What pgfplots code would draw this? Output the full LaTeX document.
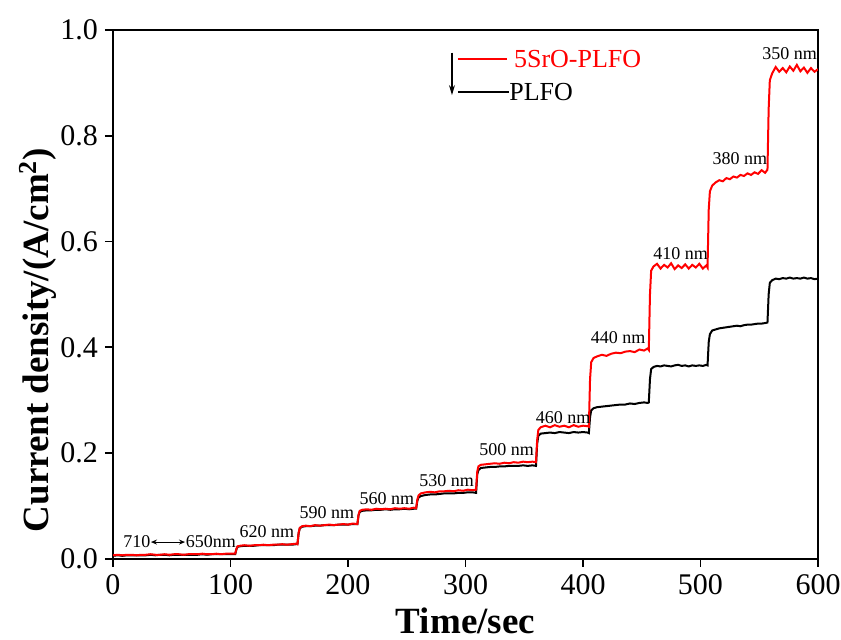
\documentclass[border=0pt]{standalone}
\usepackage{pgfplots}
\pgfplotsset{compat=1.18}
\usepackage{pgfplotstable}
\usepackage{fontspec}
\setmainfont{Liberation Serif}
\usetikzlibrary{arrows.meta}

\pgfplotstableread{
t r b
0 0.007 0.006
4 0.008 0.007
8 0.007 0.006
12 0.008 0.007
16 0.008 0.007
20 0.007 0.007
24 0.008 0.007
28 0.008 0.007
32 0.009 0.008
36 0.008 0.007
40 0.008 0.008
44 0.009 0.008
48 0.008 0.007
52 0.009 0.008
56 0.009 0.008
60 0.008 0.008
64 0.009 0.008
68 0.009 0.008
72 0.009 0.008
76 0.010 0.009
80 0.009 0.008
84 0.009 0.009
88 0.010 0.009
92 0.009 0.009
96 0.010 0.009
100 0.010 0.009
104 0.010 0.009
105 0.019 0.018
106 0.024 0.023
108 0.025 0.024
112 0.026 0.025
116 0.025 0.025
120 0.026 0.025
124 0.026 0.026
128 0.027 0.026
132 0.026 0.026
136 0.027 0.026
140 0.027 0.027
144 0.028 0.027
148 0.027 0.027
152 0.028 0.027
156 0.029 0.028
157 0.028 0.028
158 0.050 0.049
159 0.059 0.058
161 0.062 0.061
164 0.063 0.062
168 0.062 0.062
172 0.064 0.063
176 0.063 0.063
180 0.064 0.064
184 0.065 0.064
188 0.064 0.064
192 0.065 0.065
196 0.066 0.065
200 0.065 0.065
204 0.067 0.066
208 0.066 0.066
209 0.084 0.083
210 0.091 0.089
212 0.093 0.091
216 0.094 0.092
220 0.093 0.092
224 0.095 0.093
228 0.094 0.093
232 0.095 0.094
236 0.094 0.093
240 0.096 0.094
244 0.095 0.094
248 0.096 0.095
252 0.095 0.094
256 0.097 0.095
258 0.096 0.095
259 0.112 0.110
260 0.120 0.116
262 0.124 0.119
266 0.126 0.121
270 0.127 0.122
274 0.126 0.122
278 0.128 0.123
282 0.128 0.124
286 0.129 0.124
290 0.128 0.124
294 0.130 0.125
298 0.129 0.125
302 0.131 0.126
306 0.130 0.126
309 0.131 0.125
310 0.165 0.160
311 0.175 0.168
313 0.178 0.172
317 0.179 0.173
321 0.180 0.174
325 0.181 0.174
329 0.180 0.175
333 0.182 0.175
337 0.181 0.176
341 0.183 0.176
345 0.182 0.176
349 0.184 0.177
353 0.183 0.176
357 0.184 0.177
360 0.183 0.176
361 0.225 0.218
362 0.244 0.233
364 0.249 0.237
368 0.252 0.238
372 0.249 0.239
376 0.253 0.238
380 0.250 0.240
384 0.252 0.239
388 0.249 0.238
392 0.253 0.240
396 0.250 0.239
400 0.252 0.240
404 0.251 0.239
405 0.250 0.238
406 0.340 0.268
407 0.372 0.281
409 0.380 0.285
412 0.383 0.287
416 0.386 0.288
420 0.384 0.289
424 0.388 0.290
428 0.390 0.291
432 0.389 0.292
436 0.392 0.292
440 0.393 0.294
444 0.391 0.293
448 0.396 0.295
452 0.394 0.296
455 0.398 0.295
456 0.395 0.296
457 0.500 0.340
458 0.545 0.359
460 0.553 0.363
463 0.558 0.365
466 0.549 0.364
469 0.556 0.366
472 0.551 0.365
475 0.559 0.364
478 0.548 0.366
481 0.555 0.367
484 0.550 0.365
487 0.557 0.366
490 0.549 0.364
493 0.556 0.366
496 0.551 0.365
499 0.558 0.366
502 0.549 0.365
505 0.555 0.367
506 0.551 0.366
507 0.660 0.410
508 0.695 0.425
510 0.706 0.432
513 0.712 0.434
516 0.716 0.436
519 0.714 0.437
522 0.720 0.438
525 0.718 0.439
528 0.723 0.440
531 0.721 0.441
534 0.726 0.440
537 0.724 0.442
540 0.729 0.443
543 0.726 0.443
546 0.731 0.444
549 0.728 0.445
552 0.735 0.445
555 0.730 0.446
557 0.736 0.447
558 0.850 0.500
559 0.905 0.522
561 0.918 0.527
564 0.930 0.530
567 0.921 0.529
570 0.928 0.531
573 0.920 0.530
576 0.931 0.532
579 0.923 0.530
582 0.934 0.531
585 0.922 0.530
588 0.929 0.532
591 0.919 0.530
594 0.928 0.531
597 0.921 0.529
600 0.926 0.530
}\data

\begin{document}
\begin{tikzpicture}
\begin{axis}[name=ax, scale only axis, width=352.5pt, height=264.5pt,
  xmin=0, xmax=600, ymin=0, ymax=1.0,
  xtick={0,100,200,300,400,500,600},
  ytick={0,0.2,0.4,0.6,0.8,1.0},
  tick align=outside, tick pos=left, major tick length=4pt,
  axis line style={line width=0.9pt},
  every tick/.style={line width=0.9pt, black},
  yticklabel style={/pgf/number format/.cd,fixed,fixed zerofill,precision=1},
  /pgf/number format/assume math mode=true,
  ticklabel style={font=\fontsize{15}{15}\selectfont},
  xlabel={Time/sec},
  ylabel={Current density/(A/cm\textsuperscript{2})},
  label style={font=\fontsize{18.5}{20}\selectfont\bfseries},
  ylabel style={at={(ticklabel cs:0.414,-5pt)}},
]
\addplot[black, line width=1pt] table[x=t, y=b] {\data};
\addplot[red, line width=1pt] table[x=t, y=r] {\data};

\begin{scope}[font=\fontsize{9}{9}\selectfont]
\node at (axis cs:20.4,0.032) {710};
\draw[{Stealth[length=3pt,width=2.5pt]}-{Stealth[length=3pt,width=2.5pt]}, line width=0.5pt] (axis cs:32.3,0.032) -- (axis cs:61.3,0.032);
\node at (axis cs:83.4,0.032) {650nm};
\node at (axis cs:131,0.051) {620 nm};
\node at (axis cs:182,0.087) {590 nm};
\node at (axis cs:233,0.115) {560 nm};
\node at (axis cs:284,0.149) {530 nm};
\node at (axis cs:335,0.206) {500 nm};
\node at (axis cs:383,0.267) {460 nm};
\node at (axis cs:430,0.418) {440 nm};
\node at (axis cs:483,0.578) {410 nm};
\node at (axis cs:533.6,0.757) {380 nm};
\node at (axis cs:575.8,0.955) {350 nm};
\end{scope}

\draw[-{Stealth[length=5pt,width=3pt]}, line width=0.6pt] (axis cs:288.5,0.957) -- (axis cs:288.5,0.877);
\draw[red, line width=1pt] (axis cs:293.6,0.945) -- (axis cs:335.3,0.945);
\node[anchor=west, text=red, inner sep=0pt, font=\fontsize{13}{13}\selectfont] at (axis cs:341,0.945) {5SrO-PLFO};
\draw[black, line width=1pt] (axis cs:293.6,0.883) -- (axis cs:337,0.883);
\node[anchor=west, inner sep=0pt, font=\fontsize{13}{13}\selectfont] at (axis cs:337,0.883) {PLFO};
\end{axis}
\pgfresetboundingbox
\useasboundingbox ([xshift=-56.5pt,yshift=-40.5pt]ax.south west) rectangle ([xshift=11.5pt,yshift=15pt]ax.north east);
\end{tikzpicture}
\end{document}
